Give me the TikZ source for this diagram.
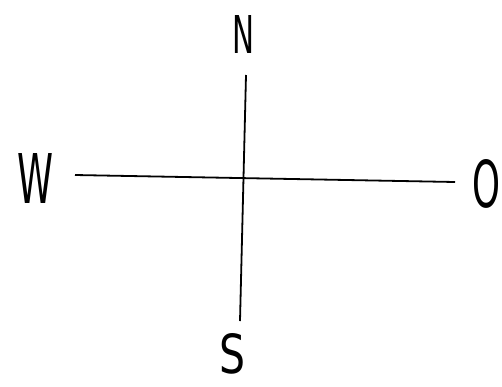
\documentclass[tikz,border=0pt]{standalone}
\usepackage{fontspec}
\usepackage{graphicx}
\setmainfont{DejaVu Sans}
\begin{document}
\begin{tikzpicture}[x=1pt,y=-1pt,
  lbl/.style={font=\fontsize{40}{40}\selectfont, inner sep=0pt, anchor=center},
  axis/.style={line width=1.8pt, black}]
\useasboundingbox (0,0) rectangle (502,386);
\node[lbl] (n) at (243,34) {\resizebox{22pt}{38pt}{N}};
\node[lbl] (s) at (232,354) {\resizebox{26pt}{40pt}{S}};
\node[lbl] (w) at (35,178) {\resizebox{36pt}{50pt}{W}};
\node[lbl] (o) at (486,184) {\resizebox{28pt}{48pt}{O}};
\coordinate (top) at (246,75);
\coordinate (bot) at (240,321);
\coordinate (lft) at (75,175);
\coordinate (rgt) at (455,182);
\draw[axis] (top) -- (bot);
\draw[axis] (lft) -- (rgt);
\end{tikzpicture}
\end{document}
